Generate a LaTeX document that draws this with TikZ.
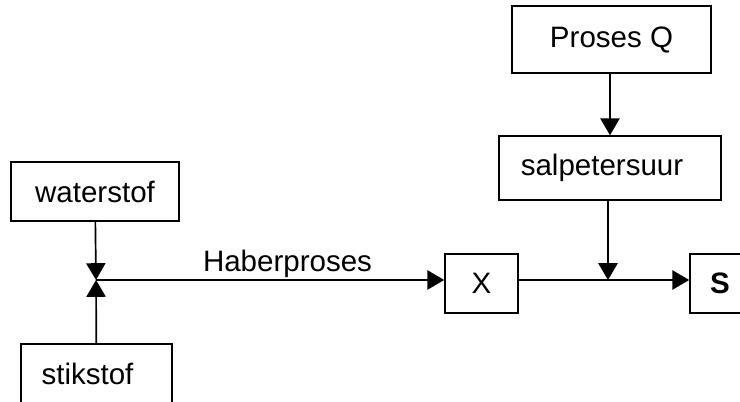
\documentclass[tikz,border=0pt]{standalone}
\usepackage{fontspec}
\setmainfont{Liberation Sans}
\usepackage{tikz}
\usetikzlibrary{arrows.meta}

\begin{document}
\begin{tikzpicture}[
  box/.style={draw, rectangle, line width=1.1pt, inner sep=0pt, font=\fontsize{21}{25}\selectfont},
  flow/.style={line width=1.2pt, -{Triangle[width=0.48cm,length=0.42cm]}}
]
\useasboundingbox (0,0) rectangle (18.5,10.05);
\clip (0,0) rectangle (18.5,10.05);

\node[box, minimum width=4.2cm, minimum height=1.475cm](H2) at (2.375,5.2625) {waterstof};
\node[box, minimum width=3.775cm, minimum height=1.5cm](N2) at (2.4125,0.7) {stikstof\kern0.45cm};
\node[box, minimum width=1.825cm, minimum height=1.475cm](X) at (12.0375,2.9625) {X};
\node[box, minimum width=1.5cm, minimum height=1.475cm](S) at (18.0,2.9625) {\textbf{S}};
\node[box, minimum width=4.975cm, minimum height=1.675cm](Q) at (15.2875,9.0625) {Proses Q};
\node[box, minimum width=5.55cm, minimum height=1.6cm](HNO3) at (15.25,5.85) {salpetersuur\kern0.4cm};

\coordinate (J) at (2.4,3.05);
\coordinate (M) at (15.2,3.05);

\draw[flow](H2) to (J);
\draw[flow](N2) to (J);
\draw[flow](J) to node[pos=0.55, above, inner sep=1pt, font=\fontsize{21}{25}\selectfont] (Haber) {Haberproses} (J -| X.west);
\draw[flow](Q.south -| HNO3.north) to (HNO3.north);
\draw[flow](HNO3.south -| M) to (M);
\draw[flow](X.east |- J) to (J -| S.west);

\end{tikzpicture}
\end{document}
